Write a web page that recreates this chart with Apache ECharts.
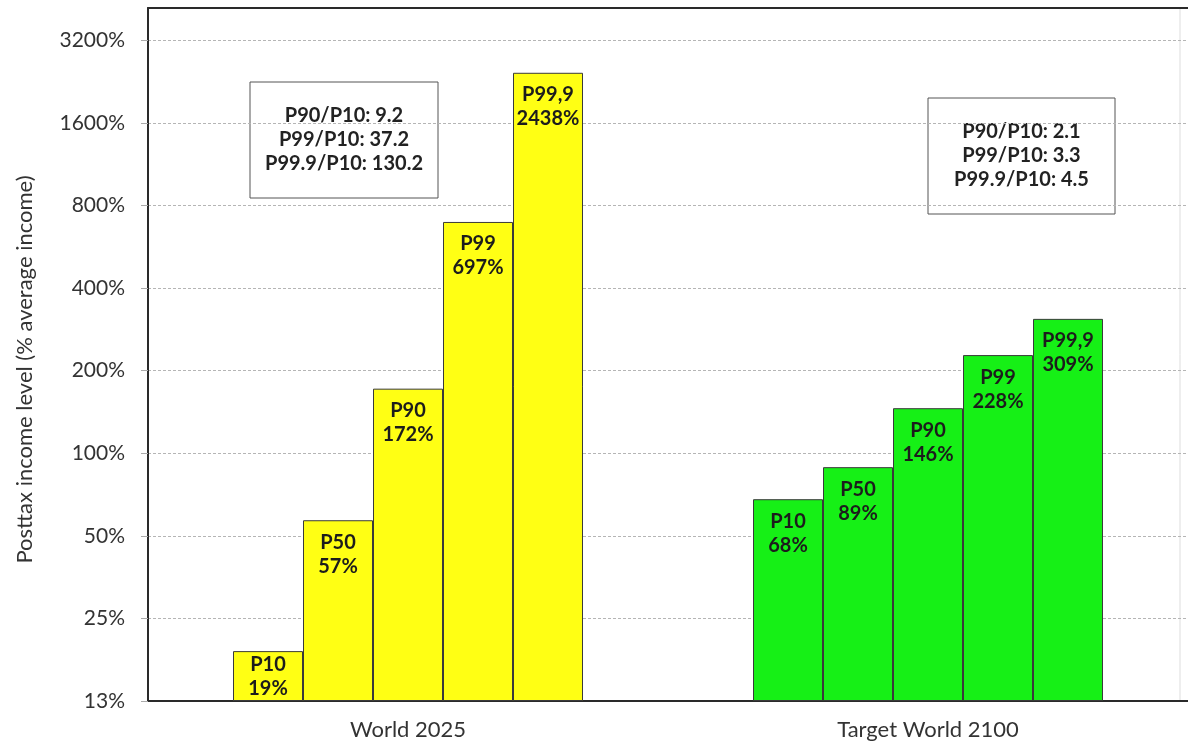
<!DOCTYPE html>
<html>
<head>
<meta charset="utf-8">
<title>Posttax income levels</title>
<script src="https://cdn.jsdelivr.net/npm/echarts@6/dist/echarts.min.js"></script>
<style>
  html, body { margin: 0; padding: 0; background: #fff; }
  #chart { width: 1188px; height: 745px; }
</style>
</head>
<body>
<div id="chart"></div>
<script>
// categories and data (posttax income, % of average income)
const groups = ['World 2025', 'Target World 2100'];
const percentiles = ['P10', 'P50', 'P90', 'P99', 'P99,9'];
const world2025 = [19, 57, 172, 697, 2438];
const target2100 = [68, 89, 146, 228, 309];
const ratioLines2025 = ['P90/P10: 9.2', 'P99/P10: 37.2', 'P99.9/P10: 130.2'];
const ratioLines2100 = ['P90/P10: 2.1', 'P99/P10: 3.3', 'P99.9/P10: 4.5'];
// y axis: log2 scale, ticks every doubling from 12.5%
const yTickBase = 12.5;
const yTop = 4200;

const colors = ['#ffff14', '#16f016'];
const toLog = v => Math.log2(v / yTickBase);

const chart = echarts.init(document.getElementById('chart'));

const series = percentiles.map((p, i) => ({
    type: 'bar',
    name: p,
    barWidth: 70,
    barGap: '0%',
    data: [world2025[i], target2100[i]].map((v, g) => ({
        value: toLog(v),
        raw: v,
        itemStyle: { color: colors[g] },
        // 最矮的柱子放不下两行，标签贴顶
        label: (g === 0 && i === 0) ? { distance: 1 } : undefined
    })),
    itemStyle: { borderColor: '#3a3a3a', borderWidth: 1 },
    label: {
        show: true,
        position: 'insideTop',
        distance: 10,
        fontFamily: 'Lato',
        fontWeight: 'bold',
        fontSize: 20,
        lineHeight: 24,
        color: '#1c1c1c',
        formatter: params => p + '\n' + params.data.raw + '%'
    },
    silent: true
}));

function ratioBox(x, y, w, h, lines) {
    return {
        type: 'group',
        children: [
            {
                type: 'rect',
                shape: { x: x, y: y, width: w, height: h },
                style: { fill: '#fff', stroke: '#555', lineWidth: 1 }
            },
            {
                type: 'text',
                style: {
                    text: lines.join('\n'),
                    x: x + w / 2,
                    y: y + h / 2,
                    textAlign: 'center',
                    textVerticalAlign: 'middle',
                    font: 'bold 20px Lato',
                    lineHeight: 24,
                    fill: '#222'
                }
            }
        ]
    };
}

const option = {
    animation: false,
    grid: { left: 148, right: 0, top: 8, bottom: 44 },
    xAxis: [
        {
            type: 'category',
            data: groups,
            axisLine: { lineStyle: { color: '#2a2a2a', width: 2 } },
            axisTick: { show: false },
            axisLabel: { fontFamily: 'Lato', fontSize: 22, color: '#333', margin: 18 }
        },
        {
            type: 'category',
            position: 'top',
            data: groups,
            axisLine: { lineStyle: { color: '#2a2a2a', width: 2 } },
            axisTick: { show: false },
            axisLabel: { show: false }
        }
    ],
    yAxis: {
        type: 'value',
        min: 0,
        max: toLog(yTop),
        interval: 1,
        name: 'Posttax income level (% average income)',
        nameLocation: 'middle',
        nameGap: 112,
        nameTextStyle: { fontFamily: 'Lato', fontSize: 22, color: '#333', padding: [0, 30, 0, 0] },
        axisLine: { show: true, lineStyle: { color: '#2a2a2a', width: 2 } },
        axisTick: { show: true, length: 7, lineStyle: { color: '#aaa' } },
        axisLabel: {
            fontFamily: 'Lato',
            fontSize: 21,
            color: '#333',
            margin: 23,
            showMaxLabel: false,
            formatter: v => Math.round(yTickBase * Math.pow(2, v)) + '%'
        },
        splitLine: { lineStyle: { color: '#b5b5b5', type: [3, 2], width: 1 } }
    },
    series: series,
    graphic: [
        {
            type: 'line',
            shape: { x1: 1180, y1: 9, x2: 1180, y2: 700 },
            style: { stroke: '#ddd', lineWidth: 1 },
            silent: true
        },
        ratioBox(250, 82, 188, 116, ratioLines2025),
        ratioBox(928, 98, 187, 116, ratioLines2100)
    ]
};

chart.setOption(option);
</script>
</body>
</html>
